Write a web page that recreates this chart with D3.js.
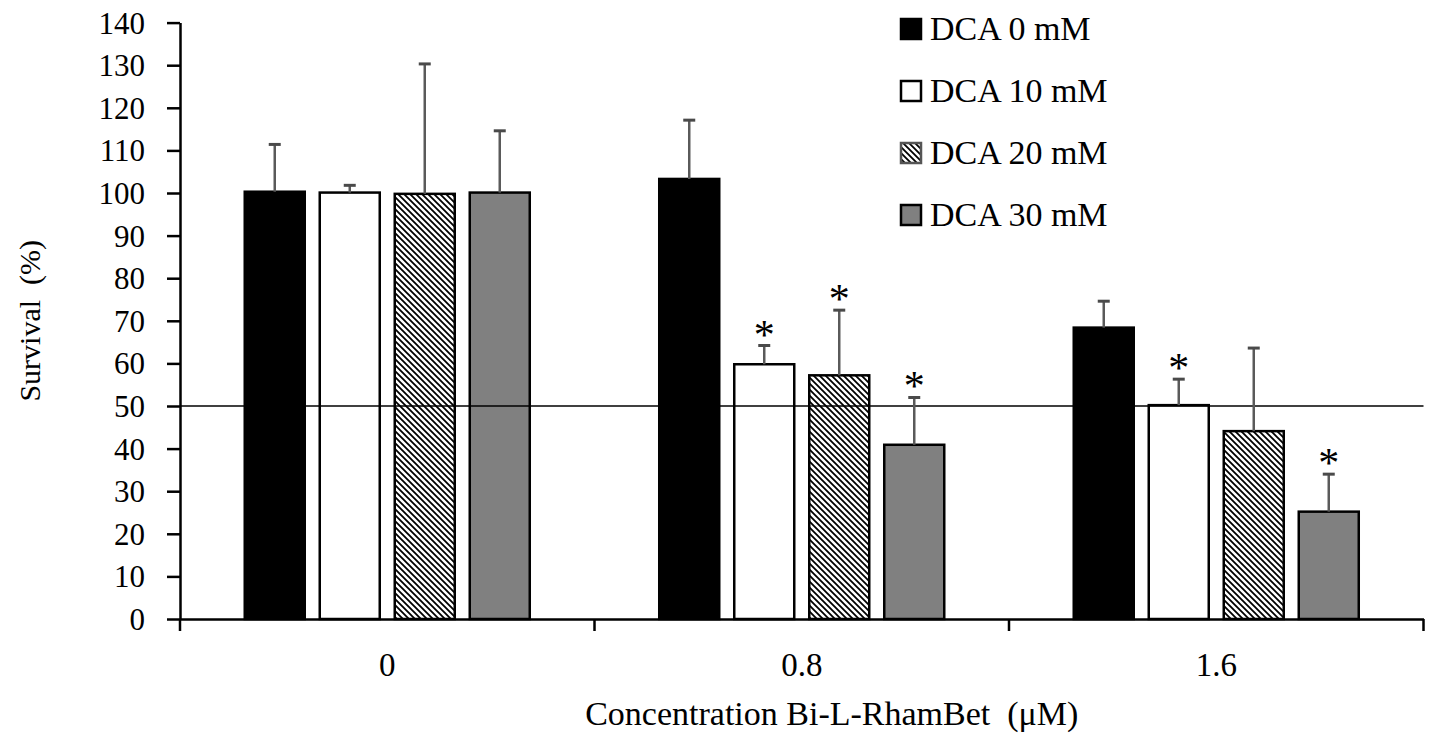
<!DOCTYPE html>
<html>
<head>
<meta charset="utf-8">
<script src="https://cdn.jsdelivr.net/npm/d3@7"></script>
<style>
  body { margin: 0; background: #fff; }
  text { font-family: "Liberation Serif", "Times New Roman", serif; fill: #000; }
</style>
</head>
<body>
<svg width="1436" height="746"></svg>
<script>
var categories = ["0", "0.8", "1.6"];
var seriesNames = ["DCA 0 mM", "DCA 10 mM", "DCA 20 mM", "DCA 30 mM"];

// survival (%) per concentration
var dca0 = [100.3, 103.3, 68.4];
var dca10 = [100.1, 59.8, 50.2];
var dca20 = [99.8, 57.2, 44.1];
var dca30 = [100.1, 40.9, 25.2];

// upper error (sd)
var dca0Err = [11.1, 13.8, 6.2];
var dca10Err = [1.7, 4.4, 6.1];
var dca20Err = [30.5, 15.3, 19.5];
var dca30Err = [14.5, 11.1, 8.8];

// significance stars
var dca0Sig = [false, false, false];
var dca10Sig = [false, true, true];
var dca20Sig = [false, true, false];
var dca30Sig = [false, true, true];

var yTicks = [0, 10, 20, 30, 40, 50, 60, 70, 80, 90, 100, 110, 120, 130, 140];
var refLine = 50;

var values = [dca0, dca10, dca20, dca30];
var errs = [dca0Err, dca10Err, dca20Err, dca30Err];
var sigs = [dca0Sig, dca10Sig, dca20Sig, dca30Sig];

var data = [];
for (var c = 0; c < categories.length; c++) {
  for (var s = 0; s < seriesNames.length; s++) {
    data.push({cat: categories[c], series: seriesNames[s], value: values[s][c], err: errs[s][c], sig: sigs[s][c]});
  }
}

var svg = d3.select("svg");
var mLeft = 180, mRight = 1423.5, mTop = 22.6, mBottom = 619;

var x0 = d3.scaleBand()
    .domain(categories)
    .range([mLeft, mRight])
    .paddingInner(0.3124)
    .paddingOuter(0.1562);

var x1 = d3.scaleBand()
    .domain(seriesNames)
    .range([0, x0.bandwidth()])
    .paddingInner(0.2);

var y = d3.scaleLinear().domain([0, 140]).range([mBottom, mTop]);

var defs = svg.append("defs");
var pat = defs.append("pattern")
    .attr("id", "hatch")
    .attr("patternUnits", "userSpaceOnUse")
    .attr("width", 6)
    .attr("height", 6);
pat.append("rect").attr("width", 6).attr("height", 6).attr("fill", "#fff");
pat.append("path")
    .attr("d", "M0,0 L6,6 M-3,3 L3,9 M3,-3 L9,3")
    .attr("stroke", "#000")
    .attr("stroke-width", 1.8);

var fills = {"DCA 0 mM": "#000", "DCA 10 mM": "#fff", "DCA 20 mM": "url(#hatch)", "DCA 30 mM": "#808080"};

// bars
svg.append("g").selectAll("rect")
    .data(data)
    .enter().append("rect")
    .attr("x", function(d) { return x0(d.cat) + x1(d.series); })
    .attr("y", function(d) { return y(d.value); })
    .attr("width", x1.bandwidth())
    .attr("height", function(d) { return y(0) - y(d.value); })
    .attr("fill", function(d) { return fills[d.series]; })
    .attr("stroke", "#000")
    .attr("stroke-width", 2.5);

// 50% line
svg.append("line")
    .attr("x1", mLeft).attr("x2", mRight)
    .attr("y1", y(refLine)).attr("y2", y(refLine))
    .attr("stroke", "#000")
    .attr("stroke-width", 1.6);

// error bars (upper only)
var eb = svg.append("g").selectAll("g")
    .data(data)
    .enter().append("g")
    .attr("transform", function(d) { return "translate(" + (x0(d.cat) + x1(d.series) + x1.bandwidth() / 2) + ",0)"; });
eb.append("line")
    .attr("y1", function(d) { return y(d.value); })
    .attr("y2", function(d) { return y(d.value + d.err); })
    .attr("stroke", "#5a5a5a")
    .attr("stroke-width", 2.5);
eb.append("line")
    .attr("x1", -6).attr("x2", 6)
    .attr("y1", function(d) { return y(d.value + d.err); })
    .attr("y2", function(d) { return y(d.value + d.err); })
    .attr("stroke", "#4a4a4a")
    .attr("stroke-width", 3);

svg.append("g").selectAll("text")
    .data(data.filter(function(d) { return d.sig; }))
    .enter().append("text")
    .attr("x", function(d) { return x0(d.cat) + x1(d.series) + x1.bandwidth() / 2; })
    .attr("y", function(d) { return y(d.value + d.err) + 3; })
    .attr("text-anchor", "middle")
    .style("font-size", "42px")
    .text("*");

// y axis
var yAxis = svg.append("g")
    .attr("transform", "translate(" + mLeft + ",0)")
    .call(d3.axisLeft(y).tickValues(yTicks).tickSize(13).tickSizeOuter(0).tickPadding(22));
yAxis.select(".domain").attr("stroke", "#000").attr("stroke-width", 2.5);
yAxis.selectAll(".tick line").attr("stroke", "#000").attr("stroke-width", 2.5);
yAxis.selectAll(".tick text").style("font-size", "31px").attr("dy", "0.34em");

// x axis
var xAxis = svg.append("g")
    .attr("transform", "translate(0," + mBottom + ")")
    .call(d3.axisBottom(x0).tickSize(0).tickSizeOuter(0).tickPadding(34));
xAxis.select(".domain").attr("stroke", "#000").attr("stroke-width", 2.5);
xAxis.selectAll(".tick text").style("font-size", "33px");

var edges = categories.map(function(c) { return x0(c) - x0.step() * x0.paddingOuter(); });
edges.push(mRight);
xAxis.selectAll(".edge")
    .data(edges)
    .enter().append("line")
    .attr("class", "edge")
    .attr("x1", function(d) { return d; })
    .attr("x2", function(d) { return d; })
    .attr("y1", 0).attr("y2", 12)
    .attr("stroke", "#000")
    .attr("stroke-width", 2.5);

// axis titles
svg.append("text")
    .attr("transform", "translate(40," + ((mTop + mBottom) / 2) + ") rotate(-90)")
    .attr("text-anchor", "middle")
    .style("font-size", "30px")
    .style("white-space", "pre")
    .text("Survival  (%)");

svg.append("text")
    .attr("x", (mLeft + mRight) / 2 + 30)
    .attr("y", 725)
    .attr("text-anchor", "middle")
    .style("font-size", "34px")
    .style("white-space", "pre")
    .text("Concentration Bi-L-RhamBet  (\u03bcM)");

// legend
var legend = svg.append("g").selectAll("g")
    .data(seriesNames)
    .enter().append("g")
    .attr("transform", function(d, i) { return "translate(901," + (29 + i * 62) + ")"; });
legend.append("rect")
    .attr("x", 0).attr("y", -10)
    .attr("width", 20).attr("height", 20)
    .attr("fill", function(d) { return fills[d]; })
    .attr("stroke", function(d, i) { return i == 2 ? "#555" : "#000"; })
    .attr("stroke-width", 2.5);
legend.append("text")
    .attr("x", 29)
    .attr("y", 11)
    .style("font-size", "34px")
    .text(function(d) { return d; });
</script>
</body>
</html>
